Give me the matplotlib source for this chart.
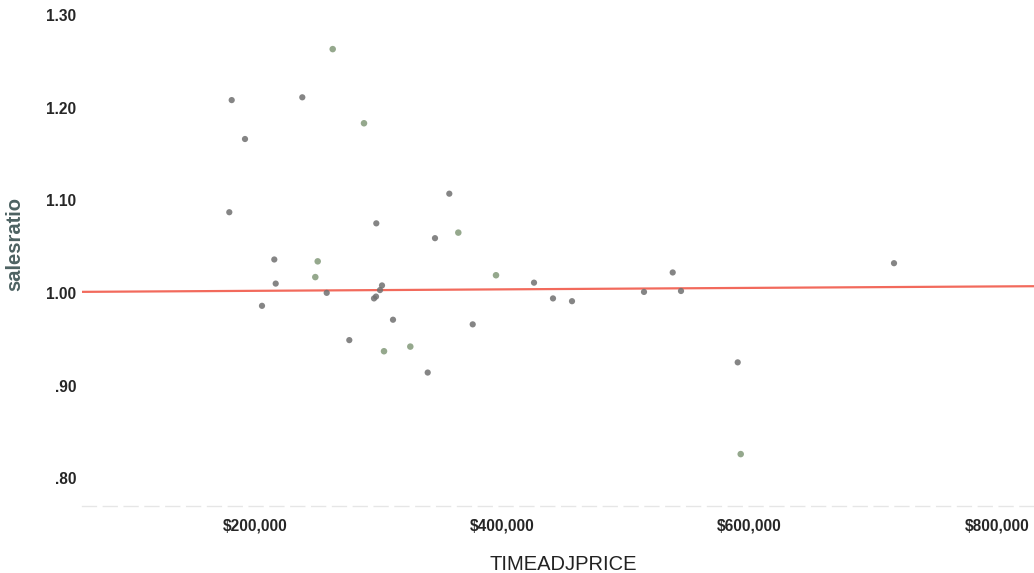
import numpy as np
import matplotlib
matplotlib.use("Agg")
import matplotlib.pyplot as plt

# scatter values (price in $, sales ratio)
gray_price = [181150, 191910, 179210, 238260, 298120, 215610, 216740, 205660,
              302730, 301110, 296260, 297880, 311630, 276280, 339700, 345600,
              357170, 376100, 425690, 441050, 456420, 537880, 716890, 590460,
              514660, 544590, 258000]
gray_ratio = [1.208, 1.166, 1.087, 1.211, 1.075, 1.036, 1.010, 0.986,
              1.008, 1.003, 0.994, 0.996, 0.971, 0.949, 0.914, 1.059,
              1.107, 0.966, 1.011, 0.994, 0.991, 1.022, 1.032, 0.925,
              1.001, 1.002, 1.000]

green_price = [262850, 288170, 250720, 248780, 304350, 325620, 394950, 364450, 592890]
green_ratio = [1.263, 1.183, 1.034, 1.017, 0.937, 0.942, 1.019, 1.065, 0.826]

# fit line
fit_intercept = 1.0006
fit_slope = 7.9e-9

xticks = [200000, 400000, 600000, 800000]
xtick_labels = ["\\$200,000", "\\$400,000", "\\$600,000", "\\$800,000"]
yticks = [0.80, 0.90, 1.00, 1.10, 1.20, 1.30]
ytick_labels = [".80", ".90", "1.00", "1.10", "1.20", "1.30"]

xmin, xmax = 60060, 830130
ymin, ymax = 0.770, 1.316

fig = plt.figure(figsize=(10.34, 5.73), dpi=100)
ax = fig.add_axes([82 / 1034, 1 - 506 / 573, 1 - 82 / 1034, 506 / 573])

ax.scatter(gray_price, gray_ratio, s=20, color="#707070", alpha=0.85,
           edgecolors="none", zorder=3)
ax.scatter(green_price, green_ratio, s=22, color="#8fa487", alpha=0.95,
           edgecolors="none", zorder=3)

fx = np.array([xmin, xmax])
ax.plot(fx, fit_intercept + fit_slope * fx, color="#f26a5c", lw=1.6, zorder=2)

ax.set_xlim(xmin, xmax)
ax.set_ylim(ymin, ymax)
ax.set_xticks(xticks)
ax.set_xticklabels(xtick_labels)
ax.set_yticks(yticks)
ax.set_yticklabels(ytick_labels)
ax.tick_params(length=0)
ax.tick_params(axis="y", pad=4)
ax.tick_params(axis="x", pad=9)
for lab in ax.get_xticklabels() + ax.get_yticklabels():
    lab.set_fontfamily(["Liberation Sans", "DejaVu Sans"])
    lab.set_fontweight("bold")
    lab.set_fontsize(11.2)
    lab.set_color("#262626")

for side in ["top", "right", "left"]:
    ax.spines[side].set_visible(False)
ax.spines["bottom"].set_color("#e6e6e6")
ax.spines["bottom"].set_linestyle((0, (10, 5)))
ax.spines["bottom"].set_linewidth(1.0)

fig.text(563 / 1034, 1 - 565 / 573, "TIMEADJPRICE", ha="center", va="center",
         fontsize=14.5, color="#222222", family=["Liberation Sans", "DejaVu Sans"])
fig.text(15 / 1034, 1 - 244 / 573, "salesratio", ha="center", va="center",
         rotation=90, fontsize=14.5, fontweight="bold", color="#4d6262",
         family=["Liberation Sans", "DejaVu Sans"])

fig.savefig("out.png", dpi=100)
